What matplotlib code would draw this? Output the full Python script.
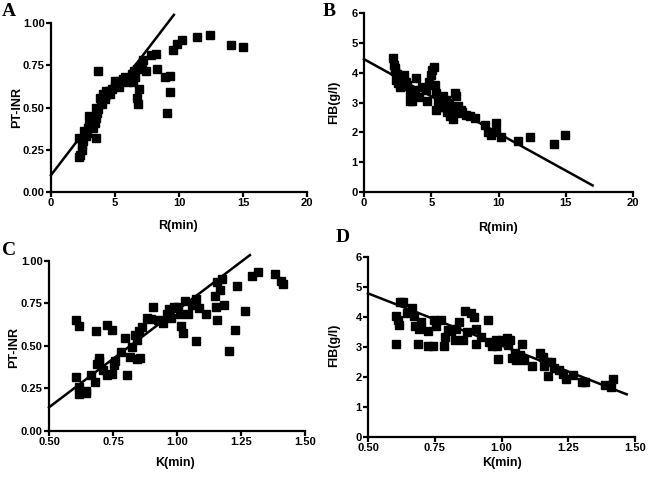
import matplotlib
matplotlib.use("Agg")
import matplotlib.pyplot as plt
import numpy as np

# ---------------- data ----------------
# Panel A: R(min) vs PT-INR
a_r = [2.2, 2.3, 2.4, 2.2, 2.4, 2.5, 2.6, 2.7, 2.8, 2.9, 3.0, 3.1, 3.0, 3.3, 3.5, 3.3, 3.4,
       3.5, 3.6, 3.7, 3.5, 3.8, 3.9, 4.0, 4.1, 4.2, 4.3, 4.5, 4.6, 4.8, 5.0, 5.0, 5.2, 5.3,
       5.4, 5.6, 5.8, 5.9, 6.0, 6.2, 6.3, 6.4, 6.5, 6.6, 6.7, 6.9, 7.1, 7.2, 3.7, 6.9, 6.7,
       6.8, 7.4, 7.8, 8.2, 8.3, 8.9, 9.3, 9.3, 9.1, 9.5, 9.85, 10.2, 11.4, 12.4, 14.1, 15.0]
a_inr = [0.21, 0.22, 0.25, 0.32, 0.28, 0.30, 0.36, 0.33, 0.35, 0.38, 0.40, 0.42, 0.45, 0.38,
         0.32, 0.44, 0.41, 0.44, 0.47, 0.49, 0.50, 0.56, 0.53, 0.52, 0.58, 0.55, 0.60, 0.60,
         0.58, 0.61, 0.63, 0.66, 0.64, 0.62, 0.66, 0.67, 0.68, 0.65, 0.66, 0.67, 0.70, 0.65,
         0.72, 0.68, 0.73, 0.74, 0.76, 0.78, 0.72, 0.61, 0.56, 0.52, 0.72, 0.81, 0.82, 0.73,
         0.68, 0.69, 0.59, 0.47, 0.84, 0.88, 0.90, 0.92, 0.93, 0.87, 0.86]
a_fit_x = [0.0, 9.6]
a_fit_y = [0.10, 1.05]

# Panel B: R(min) vs FIB(g/l)
b_r = [2.15, 2.2, 2.28, 2.35, 2.45, 2.55, 2.65, 2.85, 3.0, 3.2, 3.4, 3.4, 3.6, 3.77, 3.9,
       4.1, 4.34, 4.6, 4.7, 4.83, 4.96, 5.08, 5.2, 5.25, 5.33, 5.37, 5.5, 5.6, 5.87, 6.0,
       6.1, 6.3, 6.5, 6.6, 6.6, 6.74, 6.86, 7.07, 7.24, 7.6, 7.86, 8.23, 8.97, 9.22, 9.47,
       9.84, 9.84, 10.2, 11.43, 12.37, 14.1, 14.97, 2.3, 2.5, 2.7, 3.1, 3.5, 2.9, 5.9, 6.2,
       6.4, 7.0, 7.3]
b_fib = [4.49, 4.27, 4.16, 3.76, 3.97, 3.82, 3.54, 3.71, 3.93, 3.60, 3.32, 3.04, 3.04, 3.43,
         3.82, 3.20, 3.52, 3.43, 3.04, 3.71, 3.93, 4.10, 4.21, 3.60, 3.32, 2.76, 3.04, 2.87,
         3.21, 2.87, 3.10, 2.98, 2.76, 2.45, 2.65, 3.32, 3.21, 2.65, 2.76, 2.60, 2.54, 2.48,
         2.26, 2.03, 1.92, 2.03, 2.31, 1.83, 1.72, 1.83, 1.62, 1.92, 4.05, 3.65, 3.90, 3.70,
         3.15, 3.55, 3.00, 2.70, 2.55, 2.90, 2.70]
b_fit_x = [0.0, 17.0]
b_fit_y = [4.46, 0.22]

# Panel C: K(min) vs PT-INR
c_k = [0.607, 0.616, 0.685, 0.726, 0.746, 0.607, 0.616, 0.616, 0.646, 0.646, 0.666, 0.681,
       0.696, 0.696, 0.688, 0.710, 0.727, 0.746, 0.754, 0.757, 0.795, 0.780, 0.806, 0.817,
       0.826, 0.835, 0.845, 0.857, 0.845, 0.853, 0.864, 0.884, 0.905, 0.900, 0.926, 0.946,
       0.962, 0.967, 0.977, 0.988, 1.002, 1.011, 1.015, 1.024, 1.033, 1.044, 1.058, 1.074,
       1.076, 1.087, 1.114, 1.147, 1.155, 1.152, 1.155, 1.168, 1.174, 1.184, 1.204, 1.225,
       1.235, 1.264, 1.294, 1.315, 1.384, 1.405, 1.415]
c_inr = [0.652, 0.616, 0.587, 0.624, 0.593, 0.317, 0.258, 0.217, 0.237, 0.225, 0.329, 0.290,
         0.427, 0.410, 0.393, 0.360, 0.330, 0.335, 0.387, 0.413, 0.548, 0.462, 0.329, 0.436,
         0.495, 0.564, 0.421, 0.427, 0.534, 0.589, 0.612, 0.665, 0.726, 0.657, 0.652, 0.636,
         0.689, 0.718, 0.665, 0.726, 0.726, 0.687, 0.616, 0.573, 0.761, 0.689, 0.738, 0.777,
         0.526, 0.720, 0.687, 0.792, 0.874, 0.730, 0.652, 0.826, 0.890, 0.738, 0.472, 0.593,
         0.851, 0.703, 0.912, 0.933, 0.924, 0.879, 0.863]
c_fit_x = [0.50, 1.285]
c_fit_y = [0.139, 1.033]

# Panel D: K(min) vs FIB(g/l)
d_k = [0.606, 0.604, 0.614, 0.615, 0.619, 0.630, 0.646, 0.665, 0.672, 0.677, 0.686, 0.690,
       0.700, 0.725, 0.725, 0.744, 0.748, 0.755, 0.775, 0.785, 0.790, 0.800, 0.810, 0.825,
       0.830, 0.840, 0.856, 0.865, 0.869, 0.887, 0.896, 0.906, 0.906, 0.925, 0.948, 0.954,
       0.966, 0.979, 0.985, 0.988, 1.000, 1.019, 1.025, 1.031, 1.038, 1.050, 1.056, 1.069,
       1.077, 1.084, 1.116, 1.146, 1.154, 1.159, 1.169, 1.176, 1.184, 1.198, 1.216, 1.231,
       1.240, 1.266, 1.300, 1.313, 1.388, 1.410, 1.419]
d_fib = [3.11, 4.02, 3.89, 3.72, 4.50, 4.50, 4.14, 4.30, 4.02, 3.71, 3.11, 3.61, 3.83, 3.53,
         3.02, 3.02, 3.89, 3.69, 3.89, 3.02, 3.33, 3.56, 3.53, 3.24, 3.61, 3.83, 3.24, 4.20,
         3.50, 4.11, 4.00, 3.61, 3.11, 3.33, 3.89, 3.17, 3.02, 3.22, 3.02, 2.61, 3.22, 3.28,
         3.06, 3.22, 2.63, 2.78, 2.56, 2.72, 3.11, 2.56, 2.36, 2.80, 2.67, 2.36, 2.50, 2.02,
         2.50, 2.28, 2.22, 2.11, 1.94, 2.06, 1.83, 1.83, 1.72, 1.67, 1.94]
d_fit_x = [0.50, 1.469]
d_fit_y = [4.78, 1.42]

# ---------------- figure ----------------
W, H = 648, 479
fig = plt.figure(figsize=(W / 100, H / 100), dpi=100)

TICK_FONT = dict(family=["Liberation Sans", "DejaVu Sans"], weight="bold", size=8)
LABEL_FONT = dict(family=["Liberation Sans", "DejaVu Sans"], weight="bold", size=9)
LETTER_FONT = dict(family=["Liberation Serif", "DejaVu Serif"], weight="bold", size=14)


def px_rect(x0, x1, y_bottom, y_top):
    return [x0 / W, 1 - y_bottom / H, (x1 - x0) / W, (y_bottom - y_top) / H]


def style(ax, xlim, ylim, xticks, yticks, xfmt, yfmt):
    ax.set_xlim(*xlim)
    ax.set_ylim(*ylim)
    for s in ("top", "right"):
        ax.spines[s].set_visible(False)
    for s in ("left", "bottom"):
        ax.spines[s].set_linewidth(1.6)
    ax.set_xticks(xticks)
    ax.set_yticks(yticks)
    ax.set_xticklabels([xfmt.format(v) for v in xticks], fontdict=TICK_FONT)
    ax.set_yticklabels([yfmt.format(v) for v in yticks], fontdict=TICK_FONT)
    ax.tick_params(direction="out", length=3.5, width=1.6, pad=1)


def scatter(ax, x, y, fx, fy):
    ax.plot(x, y, linestyle="none", marker="s", markersize=5.2, color="black",
            clip_on=False, zorder=3)
    ax.plot(fx, fy, color="black", linewidth=1.8, clip_on=False, zorder=2)


axA = fig.add_axes(px_rect(51, 307, 192, 23.3))
scatter(axA, a_r, a_inr, a_fit_x, a_fit_y)
style(axA, (0, 20), (0, 1.0), [0, 5, 10, 15, 20], [0, 0.25, 0.5, 0.75, 1.0], "{:g}", "{:.2f}")

axB = fig.add_axes(px_rect(364, 633, 192, 13.3))
scatter(axB, b_r, b_fib, b_fit_x, b_fit_y)
style(axB, (0, 20), (0, 6), [0, 5, 10, 15, 20], [0, 1, 2, 3, 4, 5, 6], "{:g}", "{:g}")

axC = fig.add_axes(px_rect(49, 305, 431, 260.7))
scatter(axC, c_k, c_inr, c_fit_x, c_fit_y)
style(axC, (0.5, 1.5), (0, 1.0), [0.5, 0.75, 1.0, 1.25, 1.5], [0, 0.25, 0.5, 0.75, 1.0],
      "{:.2f}", "{:.2f}")

axD = fig.add_axes(px_rect(368, 635, 437, 256.7))
scatter(axD, d_k, d_fib, d_fit_x, d_fit_y)
style(axD, (0.5, 1.5), (0, 6), [0.5, 0.75, 1.0, 1.25, 1.5], [0, 1, 2, 3, 4, 5, 6],
      "{:.2f}", "{:g}")


def ftext(x, y, s, rot=0, **kw):
    fig.text(x / W, 1 - y / H, s, rotation=rot, ha="center", va="center", **kw)


# axis labels
ftext(178, 226, "R(min)", fontdict=LABEL_FONT)
ftext(17, 108, "PT-INR", rot=90, fontdict=LABEL_FONT)
ftext(498, 228, "R(min)", fontdict=LABEL_FONT)
ftext(334, 102, "FIB(g/l)", rot=90, fontdict=LABEL_FONT)
ftext(175, 463, "K(min)", fontdict=LABEL_FONT)
ftext(14, 348, "PT-INR", rot=90, fontdict=LABEL_FONT)
ftext(502, 463, "K(min)", fontdict=LABEL_FONT)
ftext(334, 345, "FIB(g/l)", rot=90, fontdict=LABEL_FONT)

# panel letters
ftext(9, 11, "A", fontdict=LETTER_FONT)
ftext(329, 11, "B", fontdict=LETTER_FONT)
ftext(9, 250, "C", fontdict=LETTER_FONT)
ftext(343, 237, "D", fontdict=LETTER_FONT)

fig.savefig("out.png", dpi=100)
